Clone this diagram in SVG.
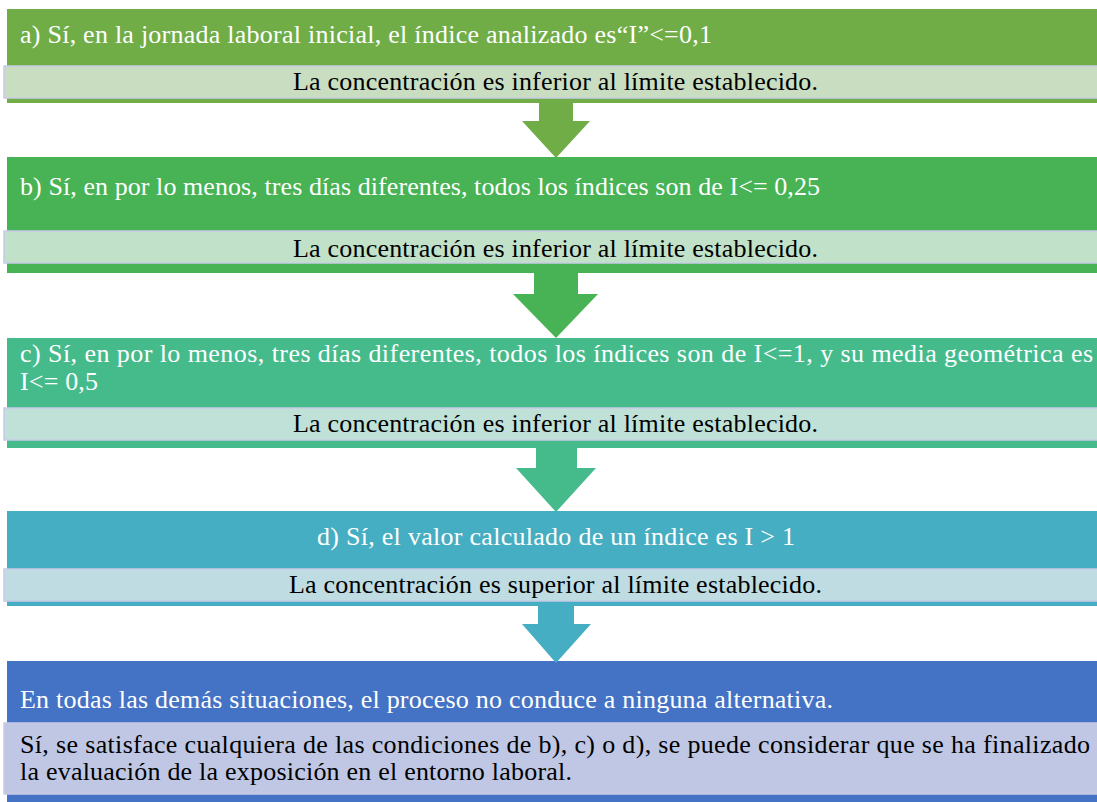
<svg xmlns="http://www.w3.org/2000/svg" width="1097" height="802" viewBox="0 0 1097 802">
<style>
text{font-family:"Liberation Serif","Times New Roman",serif;font-size:26px}
.hd{fill:#ffffff}
.bt{fill:#000000}
.band{stroke:#C8CCE6;stroke-width:1.5}
.blk{stroke:none}
</style>
<rect x="0" y="0" width="1097" height="802" fill="#ffffff"/>
<g id="node-a">
<rect class="blk" x="7" y="9" width="1095" height="94" fill="#70AD47"/>
<text class="hd" x="20" y="43" textLength="692" lengthAdjust="spacing">a) Sí, en la jornada laboral inicial, el índice analizado es“I”&lt;=0,1</text>
<rect class="band" x="4" y="66" width="1100" height="32" fill="#C9DEC1"/>
<text class="bt" x="293" y="90" textLength="525" lengthAdjust="spacing">La concentración es inferior al límite establecido.</text>
</g>
<g id="node-b">
<rect class="blk" x="7" y="157" width="1095" height="116" fill="#47B354"/>
<text class="hd" x="20" y="195" textLength="800" lengthAdjust="spacing">b) Sí, en por lo menos, tres días diferentes, todos los índices son de I&lt;= 0,25</text>
<rect class="band" x="4" y="231" width="1100" height="32" fill="#C1E1C8"/>
<text class="bt" x="293" y="257" textLength="525" lengthAdjust="spacing">La concentración es inferior al límite establecido.</text>
</g>
<g id="node-c">
<rect class="blk" x="7" y="338" width="1095" height="110" fill="#45BB8C"/>
<text class="hd" x="20" y="362" textLength="1073" lengthAdjust="spacing">c) Sí, en por lo menos, tres días diferentes, todos los índices son de I&lt;=1, y su media geométrica es</text>
<text class="hd" x="20" y="390" textLength="78" lengthAdjust="spacing">I&lt;= 0,5</text>
<rect class="band" x="4" y="408" width="1100" height="32" fill="#BFE1D7"/>
<text class="bt" x="293" y="432" textLength="525" lengthAdjust="spacing">La concentración es inferior al límite establecido.</text>
</g>
<g id="node-d">
<rect class="blk" x="7" y="511" width="1095" height="95" fill="#45AEC2"/>
<text class="hd" x="317" y="545" textLength="478" lengthAdjust="spacing">d) Sí, el valor calculado de un índice es I &gt; 1</text>
<rect class="band" x="4" y="569" width="1100" height="32" fill="#BFDCE2"/>
<text class="bt" x="289" y="593" textLength="533" lengthAdjust="spacing">La concentración es superior al límite establecido.</text>
</g>
<g id="node-e">
<rect class="blk" x="7" y="661" width="1095" height="145" fill="#4472C4"/>
<text class="hd" x="20" y="708" textLength="813" lengthAdjust="spacing">En todas las demás situaciones, el proceso no conduce a ninguna alternativa.</text>
<rect class="band" x="4" y="723" width="1100" height="71" fill="#BFC7E5"/>
<text class="bt" x="20" y="753" textLength="1070" lengthAdjust="spacing">Sí, se satisface cualquiera de las condiciones de b), c) o d), se puede considerar que se ha finalizado</text>
<text class="bt" x="20" y="780" textLength="552" lengthAdjust="spacing">la evaluación de la exposición en el entorno laboral.</text>
</g>
<g id="connectors">
<polygon points="539,103 573,103 573,121 590,121 556,158 522,121 539,121" fill="#70AD47"/>
<polygon points="534,273 578,273 578,294 598,294 556,338 513,294 534,294" fill="#47B354"/>
<polygon points="536,448 577,448 577,468 596,468 556,512 516,468 536,468" fill="#45BB8C"/>
<polygon points="538,606 574,606 574,624 591,624 556,663 522,624 538,624" fill="#45AEC2"/>
</g>
</svg>
